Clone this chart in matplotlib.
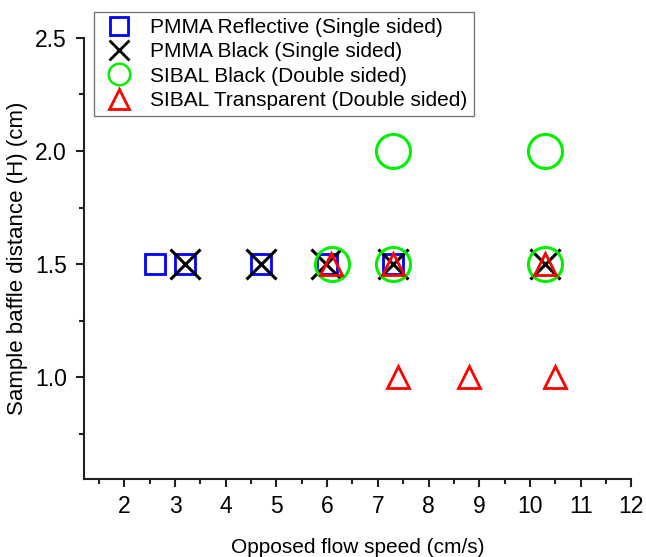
import matplotlib
matplotlib.use("Agg")
import matplotlib.pyplot as plt
from matplotlib.lines import Line2D
from matplotlib.ticker import MultipleLocator

plt.rcParams['font.family'] = ['Liberation Sans', 'DejaVu Sans']

# data
refl_x = [2.6, 3.2, 4.7, 6.0, 7.3]
refl_y = [1.5, 1.5, 1.5, 1.5, 1.5]

black_x = [3.2, 4.7, 5.98, 7.3, 10.3]
black_y = [1.5, 1.5, 1.5, 1.5, 1.5]

sibal_black_x = [6.1, 7.3, 7.3, 10.3, 10.3]
sibal_black_y = [1.5, 1.5, 2.0, 1.5, 2.0]

sibal_tr_x = [6.07, 7.3, 10.3, 7.4, 8.8, 10.5]
sibal_tr_y = [1.5, 1.5, 1.5, 1.0, 1.0, 1.0]

labels = ['PMMA Reflective (Single sided)', 'PMMA Black (Single sided)',
          'SIBAL Black (Double sided)', 'SIBAL Transparent (Double sided)']

fig = plt.figure(figsize=(6.46, 5.57), dpi=100)
ax = fig.add_axes([0.1296, 0.1406, 0.8477, 0.7917])

ax.plot(refl_x, refl_y, ls='none', marker='s', ms=15, mfc='none', mec='#0000ff', mew=2)
ax.plot(black_x, black_y, ls='none', marker='x', ms=21, mec='black', mew=2.2)
ax.plot(sibal_black_x, sibal_black_y, ls='none', marker='o', ms=24.5, mfc='none', mec='#00f000', mew=2.2)
ax.plot(sibal_tr_x, sibal_tr_y, ls='none', marker='^', ms=16, mfc='none', mec='#ff0000', mew=2)

ax.set_xlim(1.2, 12)
ax.set_ylim(0.553, 2.5)
ax.xaxis.set_minor_locator(MultipleLocator(0.5))
ax.yaxis.set_minor_locator(MultipleLocator(0.25))
ax.set_xticks(range(2, 13))
ax.set_yticks([1.0, 1.5, 2.0, 2.5])
ax.set_yticklabels(['1.0', '1.5', '2.0', '2.5'])

for s in ['top', 'right']:
    ax.spines[s].set_visible(False)
for s in ['left', 'bottom']:
    ax.spines[s].set_linewidth(1.5)
    ax.spines[s].set_color('#222222')

ax.tick_params(which='major', direction='out', length=6, width=1.5, labelsize=16.5, pad=6, color='#222222')
ax.tick_params(which='minor', direction='out', length=3.5, width=1.5, color='#222222')

ax.set_xlabel('Opposed flow speed (cm/s)', fontsize=15, labelpad=14)
ax.set_ylabel('Sample baffle distance (H) (cm)', fontsize=16, labelpad=5)

# legend proxies (smaller markers than in the plot)
handles = [
    Line2D([], [], ls='none', marker='s', ms=13, mfc='none', mec='#0000ff', mew=2),
    Line2D([], [], ls='none', marker='x', ms=15, mec='black', mew=2),
    Line2D([], [], ls='none', marker='o', ms=15.5, mfc='none', mec='#00f000', mew=1.8),
    Line2D([], [], ls='none', marker='^', ms=14, mfc='none', mec='#ff0000', mew=2),
]
leg = ax.legend(handles, labels, loc='upper left', bbox_to_anchor=(94 / 646, 1 - 12 / 557),
                bbox_transform=fig.transFigure, borderaxespad=0, fontsize=15,
                fancybox=False, edgecolor='#777777', framealpha=1,
                labelspacing=0.25, handletextpad=0.6, borderpad=0.3, handlelength=1.8)
leg.get_frame().set_linewidth(1)

plt.savefig('out.png', dpi=100)
